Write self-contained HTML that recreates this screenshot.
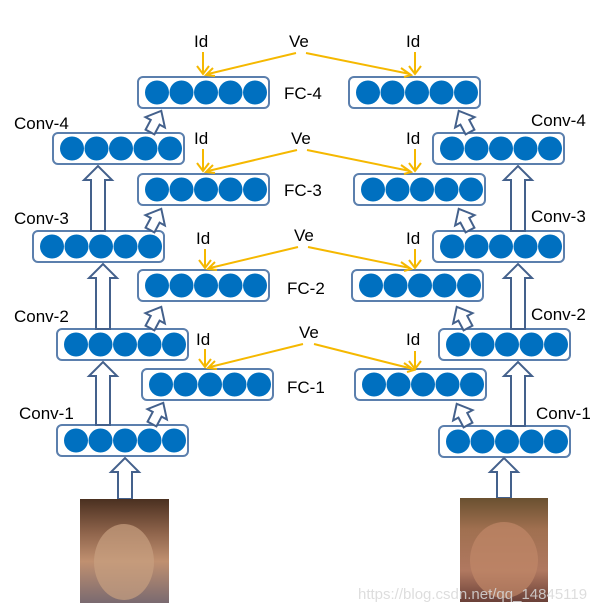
<!DOCTYPE html>
<html><head><meta charset="utf-8"><style>
html,body{margin:0;padding:0;background:#fff;}
svg{display:block}
text{font-family:"Liberation Sans",sans-serif;font-size:17px;fill:#000}
.b{fill:#fff;stroke:#5b7fad;stroke-width:2}
.c{fill:#0070c0}
.h{fill:#fff;stroke:#44618c;stroke-width:2;stroke-linejoin:miter}
.y{stroke:#f5b800;stroke-width:2;fill:none}
</style></head><body>
<svg width="608" height="614" viewBox="0 0 608 614" xmlns="http://www.w3.org/2000/svg">
<defs>
<g id="box">
<rect class="b" x="0" y="0" width="131" height="31" rx="5"/>
<circle class="c" cx="19" cy="15.5" r="12"/><circle class="c" cx="43.5" cy="15.5" r="12"/><circle class="c" cx="68" cy="15.5" r="12"/><circle class="c" cx="92.5" cy="15.5" r="12"/><circle class="c" cx="117" cy="15.5" r="12"/>
</g>
<polygon id="sa" class="h" points="-5,0 -5,-11 -11,-11 0,-24 11,-11 5,-11 5,0"/>
<linearGradient id="f1" x1="0" y1="0" x2="0" y2="1"><stop offset="0" stop-color="#4a3020"/><stop offset="0.3" stop-color="#8a6048"/><stop offset="0.6" stop-color="#c09070"/><stop offset="1" stop-color="#7a6a70"/></linearGradient>
<linearGradient id="f2" x1="0" y1="0" x2="0" y2="1"><stop offset="0" stop-color="#6a5030"/><stop offset="0.3" stop-color="#a07050"/><stop offset="0.7" stop-color="#b07860"/><stop offset="1" stop-color="#6a4038"/></linearGradient>
</defs>

<use href="#box" x="138" y="77"/><use href="#box" x="53" y="133"/><use href="#box" x="138" y="174"/><use href="#box" x="33" y="231"/>
<use href="#box" x="138" y="270"/><use href="#box" x="57" y="329"/><use href="#box" x="142" y="369"/><use href="#box" x="57" y="425"/>
<use href="#box" x="349" y="77"/><use href="#box" x="433" y="133"/><use href="#box" x="354" y="174"/><use href="#box" x="433" y="231"/>
<use href="#box" x="352" y="270"/><use href="#box" x="439" y="329"/><use href="#box" x="355" y="369"/><use href="#box" x="439" y="426"/>

<polygon class="h" points="91,231 91,180 84,180 98,166 112,180 105,180 105,231"/>
<polygon class="h" points="96,329 96,278 89,278 103,264 117,278 110,278 110,329"/>
<polygon class="h" points="96,425 96,376 89,376 103,362 117,376 110,376 110,425"/>
<polygon class="h" points="118,499 118,472 111,472 125,458 139,472 132,472 132,499"/>
<polygon class="h" points="511,231 511,180 504,180 518,166 532,180 525,180 525,231"/>
<polygon class="h" points="511,329 511,278 504,278 518,264 532,278 525,278 525,329"/>
<polygon class="h" points="511,426 511,376 504,376 518,362 532,376 525,376 525,426"/>
<polygon class="h" points="497,498 497,472 490,472 504,458 518,472 511,472 511,498"/>

<use href="#sa" transform="translate(150,132) rotate(28)"/>
<use href="#sa" transform="translate(150,230) rotate(28)"/>
<use href="#sa" transform="translate(150,328) rotate(28)"/>
<use href="#sa" transform="translate(152,424) rotate(28)"/>
<use href="#sa" transform="translate(470,132) rotate(-28)"/>
<use href="#sa" transform="translate(470,230) rotate(-28)"/>
<use href="#sa" transform="translate(468,328) rotate(-28)"/>
<use href="#sa" transform="translate(468,425) rotate(-28)"/>

<g class="y">
<path d="M203,52 V73 M197,66 L203,74 L209,66"/><path d="M296,53 L208,74 M213,68 L206,75 L215,76"/>
<path d="M415,52 V73 M409,66 L415,74 L421,66"/><path d="M306,53 L410,74 M401,68 L411,75 L404,77"/>
<path d="M203,149 V170 M197,163 L203,171 L209,163"/><path d="M297,150 L208,171 M213,165 L206,172 L215,173"/>
<path d="M415,149 V170 M409,163 L415,171 L421,163"/><path d="M307,150 L410,171 M401,165 L411,172 L404,174"/>
<path d="M205,249 V267 M199,260 L205,268 L211,260"/><path d="M298,247 L210,268 M215,262 L208,269 L217,270"/>
<path d="M415,249 V267 M409,260 L415,268 L421,260"/><path d="M308,247 L410,268 M401,262 L411,269 L404,271"/>
<path d="M205,349 V366 M199,359 L205,367 L211,359"/><path d="M303,344 L210,367 M215,361 L208,368 L217,369"/>
<path d="M415,351 V368 M409,361 L415,369 L421,361"/><path d="M314,344 L413,369 M404,363 L414,370 L407,372"/>
</g>

<text x="194" y="47">Id</text><text x="289" y="47">Ve</text><text x="406" y="47">Id</text>
<text x="194" y="144">Id</text><text x="291" y="144">Ve</text><text x="406" y="144">Id</text>
<text x="196" y="244">Id</text><text x="294" y="241">Ve</text><text x="406" y="244">Id</text>
<text x="196" y="345">Id</text><text x="299" y="338">Ve</text><text x="406" y="345">Id</text>
<text x="284" y="99">FC-4</text><text x="284" y="196">FC-3</text><text x="287" y="294">FC-2</text><text x="287" y="393">FC-1</text>
<text x="14" y="129">Conv-4</text><text x="14" y="224">Conv-3</text><text x="14" y="322">Conv-2</text><text x="19" y="419">Conv-1</text>
<text x="531" y="126">Conv-4</text><text x="531" y="222">Conv-3</text><text x="531" y="320">Conv-2</text><text x="536" y="419">Conv-1</text>

<rect x="80" y="499" width="89" height="104" fill="url(#f1)"/>
<ellipse cx="124" cy="562" rx="30" ry="38" fill="#c8a080" opacity="0.7"/>
<rect x="460" y="498" width="88" height="104" fill="url(#f2)"/>
<ellipse cx="504" cy="560" rx="34" ry="38" fill="#c08868" opacity="0.7"/>
<text x="358" y="599" style="font-size:15px;fill:#d8d8d8;opacity:0.85">https://blog.csdn.net/qq_14845119</text>
</svg>
</body></html>
